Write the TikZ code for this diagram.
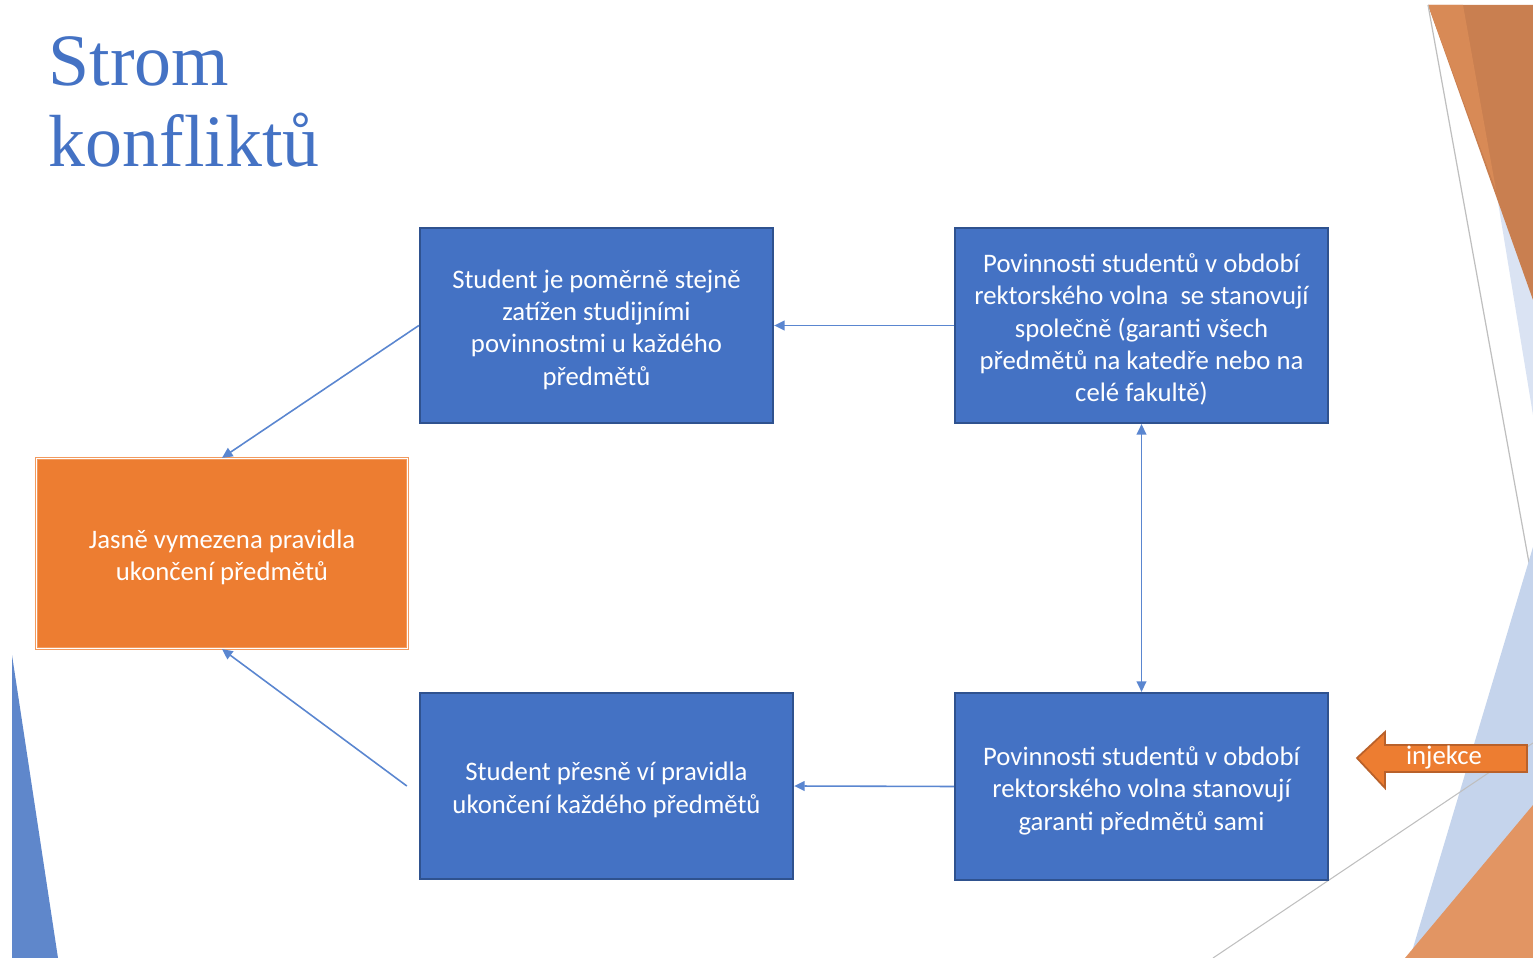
\documentclass[tikz,border=0pt]{standalone}
\usepackage{fontspec}
\setmainfont{Carlito}
\newfontfamily\titlefont{Liberation Serif}
\usetikzlibrary{arrows.meta}

\definecolor{boxblue}{HTML}{4472C4}
\definecolor{boxedge}{HTML}{2F528F}
\definecolor{linkblue}{HTML}{5A86D0}
\definecolor{goalorange}{HTML}{ED7D31}
\definecolor{goaledge}{HTML}{F29A5E}
\definecolor{injedge}{HTML}{B9612A}
\definecolor{decodark}{HTML}{C97F50}
\definecolor{decolight}{HTML}{D88A56}
\definecolor{decobottom}{HTML}{E29563}
\definecolor{decopale}{HTML}{DAE3F3}
\definecolor{decosky}{HTML}{C5D4EC}
\definecolor{decoblue}{HTML}{5F87CB}
\definecolor{decoline}{HTML}{BFBFBF}

\begin{document}
\begin{tikzpicture}[
    x=0.01cm, y=-0.01cm,
    box/.style={draw=boxedge, line width=0.6pt, fill=boxblue, inner sep=0pt},
    boxtext/.style={text=white, align=center, font=\fontsize{7.6}{9.2}\selectfont,
        inner sep=0pt, yshift=-0.04cm},
    goal/.style={box, draw=goaledge, fill=goalorange, double=white, double distance=0.35pt,
        line width=0.3pt},
    title/.style={text=boxblue, font=\titlefont\fontsize{21}{23}\selectfont, inner sep=0pt},
    link/.style={-{Triangle[length=3pt,width=2.8pt]}, draw=linkblue, line width=0.45pt}
]
\useasboundingbox (0,0) rectangle (1533,958);

% background shapes
\fill[decoblue] (12,655) -- (58,958) -- (12,958) -- cycle;
\fill[decopale] (1496,190) -- (1533,190) -- (1533,415) -- cycle;
\fill[decodark] (1428,5) -- (1533,5) -- (1533,300) -- cycle;
\fill[decolight] (1428,5) -- (1463,5) -- (1496,190) -- cycle;
\draw[decoline, line width=0.35pt] (1428,5) -- (1533,585);
\fill[decosky] (1533,547) -- (1410,958) -- (1533,958) -- cycle;
\fill[decobottom] (1533,805) -- (1405,958) -- (1533,958) -- cycle;
\draw[decoline, line width=0.3pt] (1213,958) -- (1533,743);

% title
\node[title, anchor=base west] (title1) at (48,86) {Strom};
\node[title, anchor=base west] (title2) at (48,167) {konfliktů};

% boxes
\node[box, minimum width=3.53cm, minimum height=1.95cm,
    label={[boxtext]center:{Student je poměrně stejně\\zatížen studijními\\povinnostmi u každého\\předmětů}}]
    (even) at (596.5,325.5) {};
\node[box, minimum width=3.73cm, minimum height=1.95cm,
    label={[boxtext]center:{Povinnosti studentů v období\\rektorského volna~ se stanovují\\společně (garanti všech\\předmětů na katedře nebo na\\celé fakultě)}}]
    (joint) at (1141.5,325.5) {};
\node[box, minimum width=3.73cm, minimum height=1.86cm,
    label={[boxtext]center:{Student přesně ví pravidla\\ukončení každého předmětů}}]
    (knows) at (606.5,786) {};
\node[box, minimum width=3.73cm, minimum height=1.87cm,
    label={[boxtext]center:{Povinnosti studentů v období\\rektorského volna stanovují\\garanti předmětů sami}}]
    (own) at (1141.5,786.5) {};
\node[goal, minimum width=3.71cm, minimum height=1.90cm,
    label={[boxtext]center:{Jasně vymezena pravidla\\ukončení předmětů}}]
    (rules) at (222,553.5) {};

% injection arrow
\draw[fill=goalorange, draw=injedge, line width=0.5pt]
    (1357,758) -- (1385,732) -- (1385,745) -- (1527,745) -- (1527,772)
    -- (1385,772) -- (1385,788) -- cycle;
\node[text=white, font=\fontsize{7.6}{9.2}\selectfont] (inj) at (1444,758) {injekce};

% links
\coordinate (knowsout) at ([xshift=-0.12cm]knows.west);
\draw[link] (joint.west) -- (even.east);
\draw[link, {Triangle[length=3pt,width=2.8pt]}-{Triangle[length=3pt,width=2.8pt]}] (joint.south) -- (own.north);
\draw[link] (own.west) -- (knows.east);
\draw[link] (even.west) -- (rules.north);
\draw[link] (knowsout) -- (rules.south);
\end{tikzpicture}
\end{document}
